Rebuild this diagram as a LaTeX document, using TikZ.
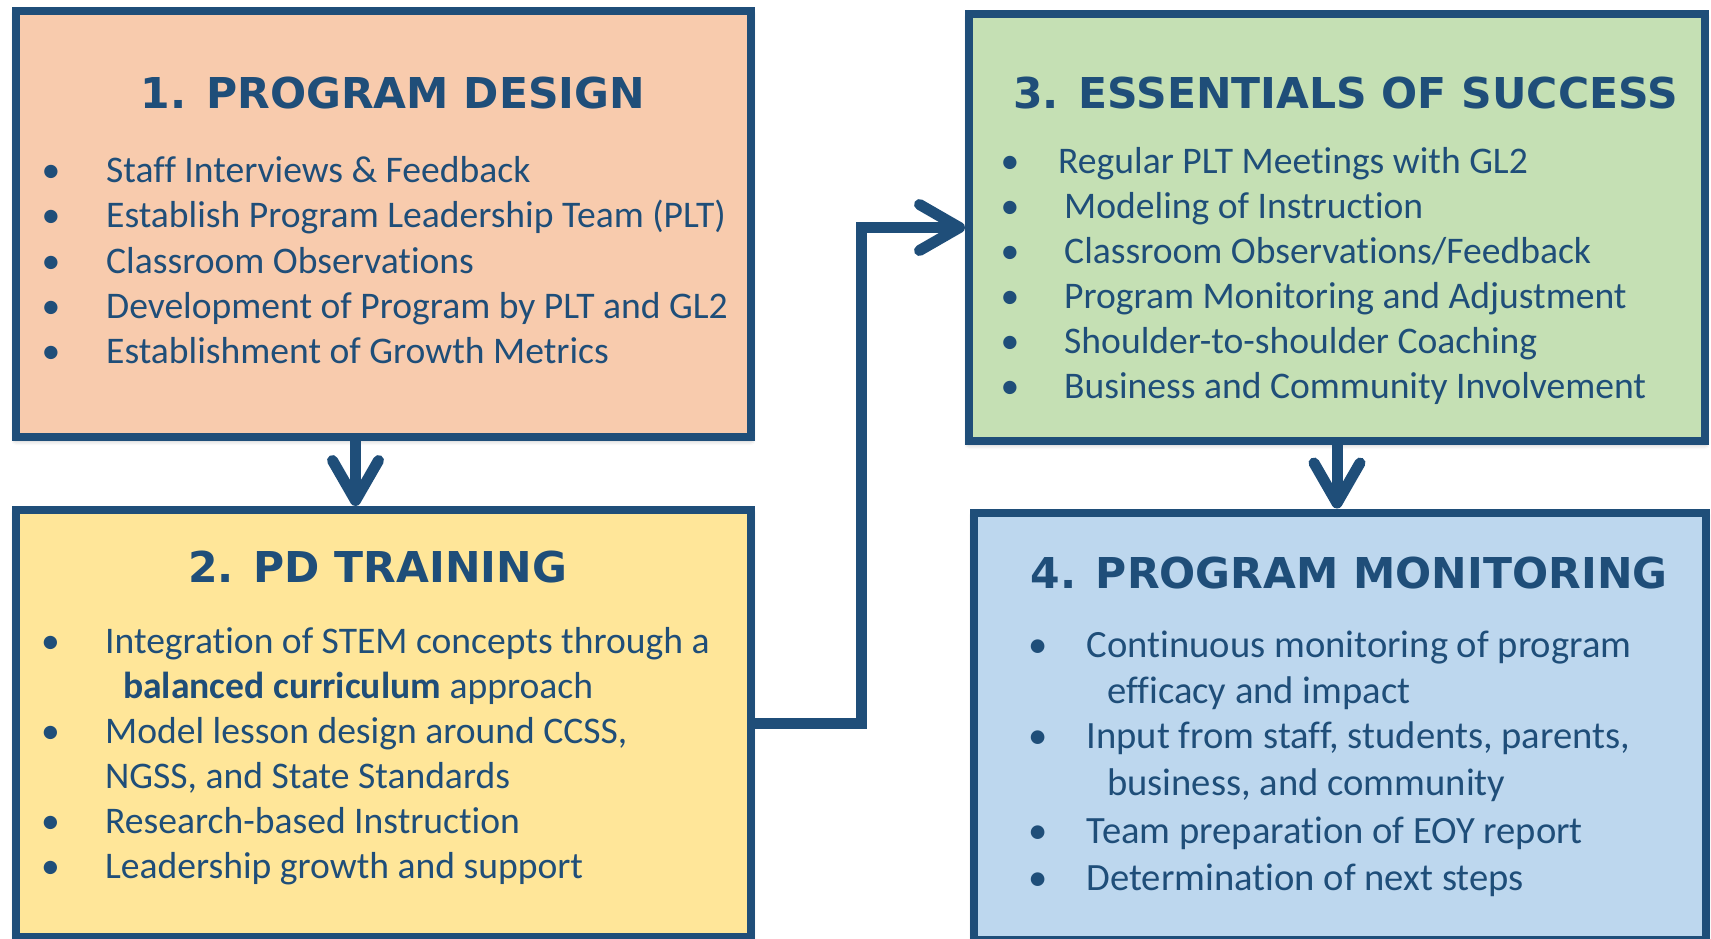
\documentclass[tikz,border=0pt]{standalone}
\usepackage{fontspec}
\setmainfont{Carlito}[Ligatures=NoCommon]
\newfontfamily\headfont{DejaVu Sans}
\usetikzlibrary{arrows.meta,shadows.blur}

\definecolor{navy}{RGB}{31,78,121}
\definecolor{peach}{RGB}{248,203,173}
\definecolor{butter}{RGB}{255,230,153}
\definecolor{sage}{RGB}{197,224,180}
\definecolor{sky}{RGB}{189,215,238}

\begin{document}
\begin{tikzpicture}[x=1pt,y=-1pt,
  panel/.style={draw=navy, line width=8pt, inner sep=0pt,
    blur shadow={shadow xshift=0pt, shadow yshift=-3pt,
      shadow blur radius=5pt, shadow opacity=35}},
  heading/.style={anchor=base, inner sep=0pt, text=navy,
    font=\headfont\bfseries\fontsize{42.5}{50}\selectfont},
  bodytext/.style={anchor=base west, inner sep=0pt, text=navy,
    font=\fontsize{37.6}{45}\selectfont},
  dot/.style={anchor=base, inner sep=0pt, text=navy,
    font=\fontsize{37.6}{45}\selectfont},
  bigtext/.style={bodytext, font=\fontsize{38.6}{46}\selectfont},
  bigdot/.style={dot, font=\fontsize{38.6}{46}\selectfont},
  conn/.style={draw=navy, line width=11pt},
  barb/.style={-{Straight Barb[length=40pt,width=46pt,round]}}
]
\useasboundingbox (0,0) rectangle (1711,938);

% the four stage panels
\node[panel, fill=peach,  minimum width=735pt, minimum height=426pt] (b1) at (383.5,224) {};
\node[panel, fill=butter, minimum width=735pt, minimum height=427pt] (b2) at (383.5,723.5) {};
\node[panel, fill=sage,   minimum width=736pt, minimum height=427pt] (b3) at (1337,227.5) {};
\node[panel, fill=sky,    minimum width=732pt, minimum height=427.5pt] (b4) at (1340,726.25) {};

% headings
\node[heading] (h1) at (393,108)    {1. PROGRAM DESIGN};
\node[heading] (h2) at (377.5,582)  {2. PD TRAINING};
\node[heading] (h3) at (1345.5,108) {3. ESSENTIALS OF SUCCESS};
\node[heading] (h4) at (1349,588)   {4. PROGRAM MONITORING};

% stage 1 items
\foreach \y/\t [count=\i] in {
    182/{Staff Interviews \& Feedback},
    227/{Establish Program Leadership Team (PLT)},
    273/{Classroom Observations},
    318/{Development of Program by PLT and GL2},
    363/{Establishment of Growth Metrics}} {
  \node[dot] (d1-\i) at (51,\y) {\textbullet};
  \node[bodytext] (t1-\i) at (106,\y) {\t};
}

% stage 2 items
\foreach \y in {653,743,833,878}
  \node[dot] (d2-\y) at (50.5,\y) {\textbullet};
\node[bodytext] (t2-1) at (105,653) {Integration of STEM concepts through a};
\node[bodytext] (t2-2) at (123,698) {\textbf{balanced curriculum} approach};
\node[bodytext] (t2-3) at (105,743) {Model lesson design around CCSS,};
\node[bodytext] (t2-4) at (105,788) {NGSS, and State Standards};
\node[bodytext] (t2-5) at (105,833) {Research-based Instruction};
\node[bodytext] (t2-6) at (105,878) {Leadership growth and support};

% stage 3 items
\foreach \y in {173,218,263,308,353,398}
  \node[dot] (d3-\y) at (1010,\y) {\textbullet};
\node[bodytext] (t3-1) at (1058,173) {Regular PLT Meetings with GL2};
\node[bodytext] (t3-2) at (1064,218) {Modeling of Instruction};
\node[bodytext] (t3-3) at (1064,263) {Classroom Observations/Feedback};
\node[bodytext] (t3-4) at (1064,308) {Program Monitoring and Adjustment};
\node[bodytext] (t3-5) at (1064,353) {Shoulder-to-shoulder Coaching};
\node[bodytext] (t3-6) at (1064,398) {Business and Community Involvement};

% stage 4 items
\foreach \y in {657,748,843,890}
  \node[bigdot] (d4-\y) at (1038,\y) {\textbullet};
\node[bigtext] (t4-1) at (1086.5,657) {Continuous monitoring of program};
\node[bigtext] (t4-2) at (1107,703)   {efficacy and impact};
\node[bigtext] (t4-3) at (1086.5,748) {Input from staff, students, parents,};
\node[bigtext] (t4-4) at (1107,795)   {business, and community};
\node[bigtext] (t4-5) at (1086.5,843) {Team preparation of EOY report};
\node[bigtext] (t4-6) at (1086.5,890) {Determination of next steps};

% connectors between stages
\draw[conn, barb] ([xshift=-28pt]b1.south) -- ([xshift=-28pt]b2.north);
\draw[conn, barb] (b2.east) -- ++(106,0) |- (b3.west);
\draw[conn, barb] (b3.south) -- (b3.south |- b4.north);
\end{tikzpicture}
\end{document}
